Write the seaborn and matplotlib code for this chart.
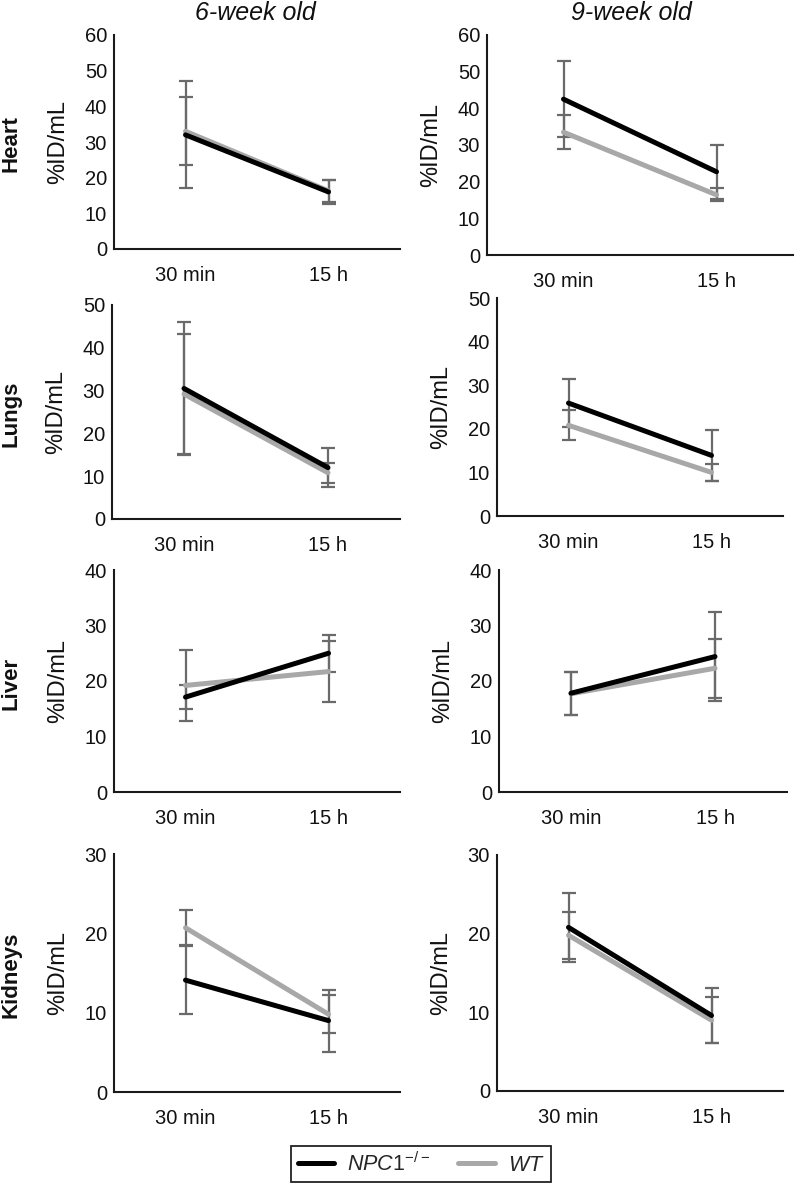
import numpy as np
import pandas as pd
import matplotlib
matplotlib.use("Agg")
import matplotlib.pyplot as plt
import seaborn as sns
from matplotlib.lines import Line2D

# ---------------- data ----------------
timepoints = ["30 min", "15 h"]
organs = ["Heart", "Lungs", "Liver", "Kidneys"]
ages = ["6-week old", "9-week old"]
organ_ymax = [60, 50, 40, 30]

# rows = organs, values = [30 min, 15 h]
npc1_mean_6wk = [[32.0, 16.0], [30.5, 12.0], [17.1, 25.0], [14.1, 9.0]]
npc1_err_6wk = [[15.0, 3.3], [15.5, 4.5], [2.2, 3.3], [4.3, 3.9]]
wt_mean_6wk = [[33.0, 16.3], [29.2, 10.8], [19.2, 21.7], [20.7, 9.8]]
wt_err_6wk = [[9.5, 3.0], [14.0, 2.4], [6.4, 5.5], [2.2, 2.4]]

npc1_mean_9wk = [[42.5, 22.7], [25.9, 13.9], [17.8, 24.4], [20.8, 9.6]]
npc1_err_9wk = [[10.4, 7.3], [5.6, 5.9], [3.9, 8.0], [4.4, 3.5]]
wt_mean_9wk = [[33.5, 16.4], [20.8, 10.0], [17.7, 22.3], [19.8, 9.0]]
wt_err_9wk = [[4.7, 1.8], [3.4, 2.0], [3.9, 5.3], [3.0, 2.9]]

groups = ["WT", "NPC1"]
# --------------------------------------

means = {("NPC1", 0): npc1_mean_6wk, ("NPC1", 1): npc1_mean_9wk,
         ("WT", 0): wt_mean_6wk, ("WT", 1): wt_mean_9wk}
errs = {("NPC1", 0): npc1_err_6wk, ("NPC1", 1): npc1_err_9wk,
        ("WT", 0): wt_err_6wk, ("WT", 1): wt_err_9wk}

rows = []
for a in range(len(ages)):
    for o, organ in enumerate(organs):
        for g in groups:
            for t, tp in enumerate(timepoints):
                rows.append(dict(age=a, organ=organ, group=g, pos=t, time=tp,
                                 value=means[(g, a)][o][t], err=errs[(g, a)][o][t]))
df = pd.DataFrame(rows)

sns.set_theme(style="white")
plt.rcParams["font.family"] = ["Liberation Sans", "DejaVu Sans"]
plt.rcParams["mathtext.fontset"] = "custom"
plt.rcParams["mathtext.it"] = "Liberation Sans:italic"
plt.rcParams["mathtext.rm"] = "Liberation Sans"

palette = {"NPC1": "#000000", "WT": "#a8a8a8"}
err_color = "#6a6a6a"

W, H = 796, 1183
fig = plt.figure(figsize=(W / 100, H / 100), dpi=100)
fig.patch.set_facecolor("white")

# pixel boxes (left, top, right, bottom) for each panel
boxes = {(0, 0): (114, 35, 400, 249), (0, 1): (487, 35, 793, 255),
         (1, 0): (112, 305, 400, 519), (1, 1): (497, 298, 783, 516),
         (2, 0): (114, 570, 400, 792), (2, 1): (499, 570, 787, 792),
         (3, 0): (114, 854, 400, 1092), (3, 1): (497, 855, 783, 1091)}

for (o, a), (l, t, r, b) in boxes.items():
    ax = fig.add_axes([l / W, 1 - b / H, (r - l) / W, (b - t) / H])
    sub = df[(df.age == a) & (df.organ == organs[o])]
    for g in groups:
        s = sub[sub.group == g]
        ax.errorbar(s["pos"], s["value"], yerr=s["err"], fmt="none",
                    ecolor=err_color, elinewidth=1.6, capsize=5, capthick=1.6,
                    zorder=1)
    sns.lineplot(data=sub, x="pos", y="value", hue="group", hue_order=groups,
                 palette=palette, linewidth=3.6, legend=False, ax=ax,
                 errorbar=None, zorder=3)
    ymax = organ_ymax[o]
    ax.set_ylim(0, ymax)
    ax.set_yticks(np.arange(0, ymax + 1, 10))
    ax.set_xlim(-0.5, 1.5)
    ax.set_xticks(range(len(timepoints)))
    ax.set_xticklabels(timepoints)
    ax.set_xlabel("")
    ax.set_ylabel("")
    ax.tick_params(length=0, labelsize=14.5, colors="#111111")
    ax.tick_params(axis="x", pad=12)
    ax.tick_params(axis="y", pad=5)
    for sp in ["top", "right"]:
        ax.spines[sp].set_visible(False)
    for sp in ["left", "bottom"]:
        ax.spines[sp].set_color("#1a1a1a")
        ax.spines[sp].set_linewidth(1.5)
    ax.set_facecolor("white")
    # y label
    fig.text((l - 56) / W, 1 - ((t + b) / 2) / H, "%ID/mL", rotation=90,
             ha="center", va="center", fontsize=17, color="#111111")
    if a == 0:
        fig.text(11 / W, 1 - ((t + b) / 2 + 2) / H, organs[o], rotation=90,
                 ha="center", va="center", fontsize=16, fontweight="bold",
                 color="#111111")

# column titles
fig.text(255 / W, 1 - 13 / H, ages[0], ha="center", va="center",
         fontsize=18, fontstyle="italic", color="#111111")
fig.text(631 / W, 1 - 13 / H, ages[1], ha="center", va="center",
         fontsize=18, fontstyle="italic", color="#111111")

handles = [Line2D([0], [0], color=palette["NPC1"], lw=3.6),
           Line2D([0], [0], color=palette["WT"], lw=3.6)]
labels = [r"$\mathit{NPC1}^{-/-}$", r"$\mathit{WT}$"]
leg = fig.legend(handles, labels, loc="center",
                 bbox_to_anchor=(421 / W, 1 - 1164 / H), ncol=2,
                 frameon=True, fancybox=False, edgecolor="#222222",
                 fontsize=15.5, handlelength=1.7, handletextpad=0.6,
                 columnspacing=1.3, borderpad=0.3, framealpha=1)
leg.get_frame().set_linewidth(1.3)

fig.savefig("out.png", dpi=100, facecolor="white")
